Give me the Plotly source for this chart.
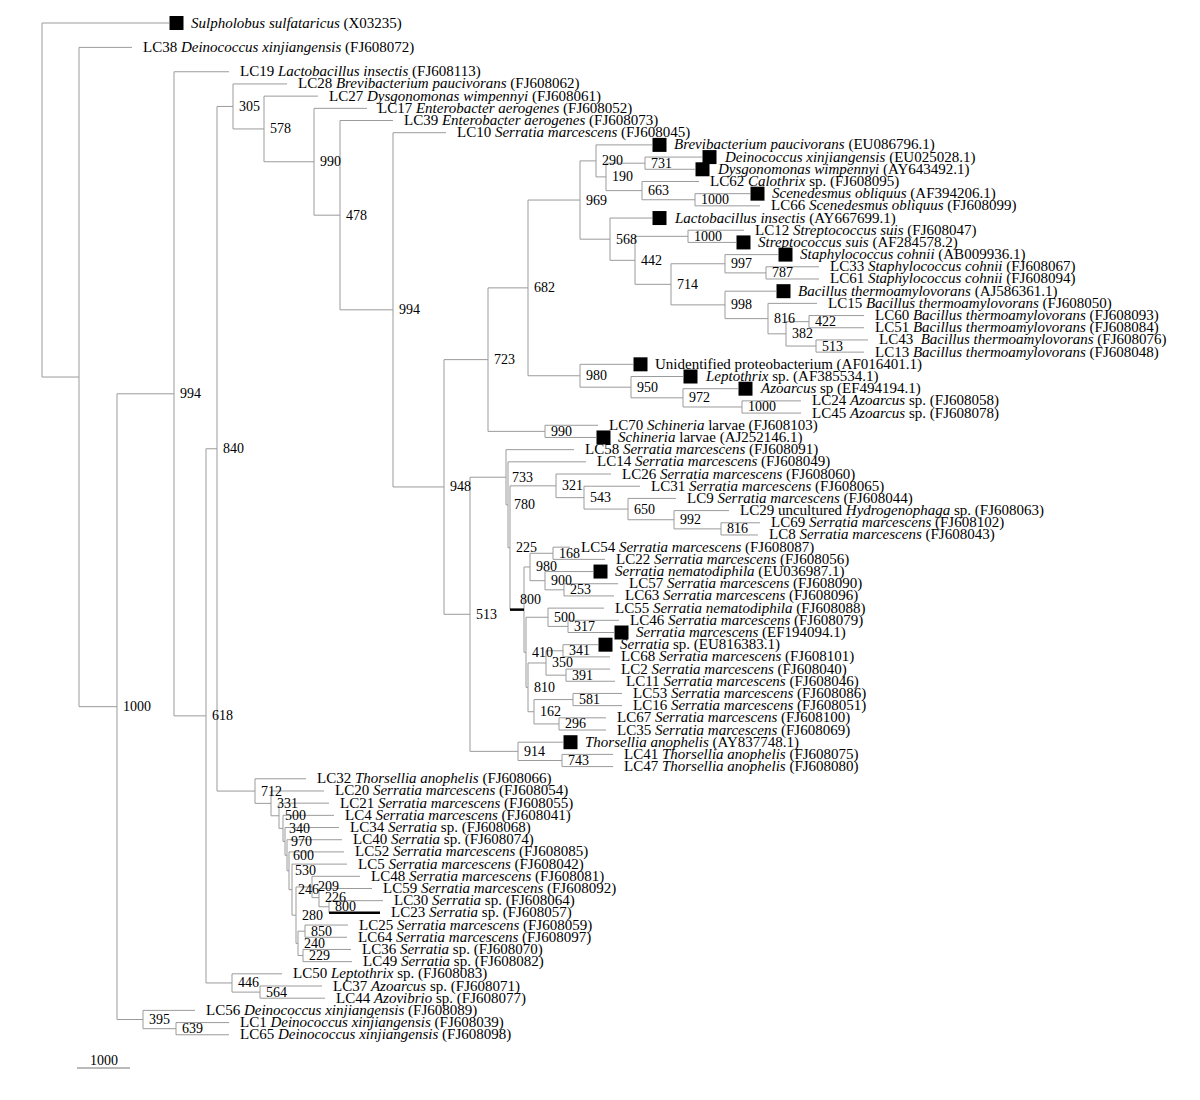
import plotly.graph_objects as go

# leaves, top to bottom
LEAF_LABELS = [
    "<i>Sulpholobus sulfataricus</i> (X03235)",
    "LC38 <i>Deinococcus xinjiangensis</i> (FJ608072)",
    "LC19 <i>Lactobacillus insectis</i> (FJ608113)",
    "LC28 <i>Brevibacterium paucivorans</i> (FJ608062)",
    "LC27 <i>Dysgonomonas wimpennyi</i> (FJ608061)",
    "LC17 <i>Enterobacter aerogenes</i> (FJ608052)",
    "LC39 <i>Enterobacter aerogenes</i> (FJ608073)",
    "LC10 <i>Serratia marcescens</i> (FJ608045)",
    "<i>Brevibacterium paucivorans</i> (EU086796.1)",
    "<i>Deinococcus xinjiangensis</i> (EU025028.1)",
    "<i>Dysgonomonas wimpennyi</i> (AY643492.1)",
    "LC62 <i>Calothrix</i> sp. (FJ608095)",
    "<i>Scenedesmus obliquus</i> (AF394206.1)",
    "LC66 <i>Scenedesmus obliquus</i> (FJ608099)",
    "<i>Lactobacillus insectis</i> (AY667699.1)",
    "LC12 <i>Streptococcus suis</i> (FJ608047)",
    "<i>Streptococcus suis</i> (AF284578.2)",
    "<i>Staphylococcus cohnii</i> (AB009936.1)",
    "LC33 <i>Staphylococcus cohnii</i> (FJ608067)",
    "LC61 <i>Staphylococcus cohnii</i> (FJ608094)",
    "<i>Bacillus thermoamylovorans</i> (AJ586361.1)",
    "LC15 <i>Bacillus thermoamylovorans</i> (FJ608050)",
    "LC60 <i>Bacillus thermoamylovorans</i> (FJ608093)",
    "LC51 <i>Bacillus thermoamylovorans</i> (FJ608084)",
    "LC43\u00a0 <i>Bacillus thermoamylovorans</i> (FJ608076)",
    "LC13 <i>Bacillus thermoamylovorans</i> (FJ608048)",
    "Unidentified proteobacterium (AF016401.1)",
    "<i>Leptothrix</i> sp. (AF385534.1)",
    "<i>Azoarcus</i> sp (EF494194.1)",
    "LC24 <i>Azoarcus</i> sp. (FJ608058)",
    "LC45 <i>Azoarcus</i> sp. (FJ608078)",
    "LC70 <i>Schineria</i> larvae (FJ608103)",
    "<i>Schineria</i> larvae (AJ252146.1)",
    "LC58 <i>Serratia marcescens</i> (FJ608091)",
    "LC14 <i>Serratia marcescens</i> (FJ608049)",
    "LC26 <i>Serratia marcescens</i> (FJ608060)",
    "LC31 <i>Serratia marcescens</i> (FJ608065)",
    "LC9 <i>Serratia marcescens</i> (FJ608044)",
    "LC29 uncultured <i>Hydrogenophaga</i> sp. (FJ608063)",
    "LC69 <i>Serratia marcescens</i> (FJ608102)",
    "LC8 <i>Serratia marcescens</i> (FJ608043)",
    "LC54 <i>Serratia marcescens</i> (FJ608087)",
    "LC22 <i>Serratia marcescens</i> (FJ608056)",
    "<i>Serratia nematodiphila</i> (EU036987.1)",
    "LC57 <i>Serratia marcescens</i> (FJ608090)",
    "LC63 <i>Serratia marcescens</i> (FJ608096)",
    "LC55 <i>Serratia nematodiphila</i> (FJ608088)",
    "LC46 <i>Serratia marcescens</i> (FJ608079)",
    "<i>Serratia marcescens</i> (EF194094.1)",
    "<i>Serratia</i> sp. (EU816383.1)",
    "LC68 <i>Serratia marcescens</i> (FJ608101)",
    "LC2 <i>Serratia marcescens</i> (FJ608040)",
    "LC11 <i>Serratia marcescens</i> (FJ608046)",
    "LC53 <i>Serratia marcescens</i> (FJ608086)",
    "LC16 <i>Serratia marcescens</i> (FJ608051)",
    "LC67 <i>Serratia marcescens</i> (FJ608100)",
    "LC35 <i>Serratia marcescens</i> (FJ608069)",
    "<i>Thorsellia anophelis</i> (AY837748.1)",
    "LC41 <i>Thorsellia anophelis</i> (FJ608075)",
    "LC47 <i>Thorsellia anophelis</i> (FJ608080)",
    "LC32 <i>Thorsellia anophelis</i> (FJ608066)",
    "LC20 <i>Serratia marcescens</i> (FJ608054)",
    "LC21 <i>Serratia marcescens</i> (FJ608055)",
    "LC4 <i>Serratia marcescens</i> (FJ608041)",
    "LC34 <i>Serratia</i> sp. (FJ608068)",
    "LC40 <i>Serratia</i> sp. (FJ608074)",
    "LC52 <i>Serratia marcescens</i> (FJ608085)",
    "LC5 <i>Serratia marcescens</i> (FJ608042)",
    "LC48 <i>Serratia marcescens</i> (FJ608081)",
    "LC59 <i>Serratia marcescens</i> (FJ608092)",
    "LC30 <i>Serratia</i> sp. (FJ608064)",
    "LC23 <i>Serratia</i> sp. (FJ608057)",
    "LC25 <i>Serratia marcescens</i> (FJ608059)",
    "LC64 <i>Serratia marcescens</i> (FJ608097)",
    "LC36 <i>Serratia</i> sp. (FJ608070)",
    "LC49 <i>Serratia</i> sp. (FJ608082)",
    "LC50 <i>Leptothrix</i> sp. (FJ608083)",
    "LC37 <i>Azoarcus</i> sp. (FJ608071)",
    "LC44 <i>Azovibrio</i> sp. (FJ608077)",
    "LC56 <i>Deinococcus xinjiangensis</i> (FJ608089)",
    "LC1 <i>Deinococcus xinjiangensis</i> (FJ608039)",
    "LC65 <i>Deinococcus xinjiangensis</i> (FJ608098)",
]

# cumulative branch length at each tip (same units as NODE_DEPTH)
LEAF_DEPTH = [
    169, 132, 229, 287, 318, 367, 393, 446,
    652, 702, 695, 699, 750, 760, 652, 744, 736,
    778, 819, 819, 776, 817, 864, 864, 868, 864,
    633, 683, 738, 801, 801, 598, 596,
    574, 586, 611, 640, 676, 729, 760, 758,
    570, 605, 593, 618, 614, 604, 619, 614, 598,
    610, 610, 615, 622, 622, 606, 606, 563, 613, 613,
    306, 324, 329, 334, 339, 342, 344, 347, 360, 372,
    383, 380, 348, 347, 351, 352, 282, 322, 325,
    195, 229, 229,
]

# reference sequences from GenBank (black squares)
REFERENCE_LEAVES = [0, 8, 9, 10, 12, 14, 16, 17, 20, 26, 27, 28, 32, 43, 48, 49, 57]

NODE_NAMES = [
    "nRoot", "n78", "nA", "nB", "n618", "n840", "n305", "n578", "n990", "n478",
    "n994b", "n948", "n723", "n682", "n969", "n290", "n190", "n731", "n663", "n1000s",
    "n568", "n442", "n1000st", "n714", "n997", "n787", "n998", "n816b", "n382", "n422",
    "n513b", "n980u", "n950", "n972", "n1000a", "n990s", "n513", "n733", "n780", "n225",
    "n321", "n543", "n650", "n992", "n816s", "n810", "n410", "n800s", "n980s", "n168",
    "n900", "n253", "n500s", "n317", "n350", "n341", "n391", "n162", "n581", "n296",
    "n914", "n743", "n712", "n331", "n500l", "n340", "n970", "n600", "n530", "n246",
    "n280", "n209", "n226", "n800l", "n240", "n850", "n229", "n446", "n564", "n395",
    "n639",
]
NODE_DEPTH = [
    42, 79, 117, 174, 206, 217, 233, 264, 314, 340,
    393, 444, 488, 528, 580, 596, 606, 645, 642, 695,
    610, 635, 688, 671, 725, 766, 725, 768, 786, 809,
    816, 580, 631, 683, 742, 545, 470, 506, 508, 510,
    556, 584, 628, 674, 721, 528, 526, 524, 530, 553,
    545, 564, 548, 568, 546, 563, 566, 534, 573, 559,
    518, 562, 255, 271, 279, 283, 285, 287, 289, 292,
    296, 312, 319, 329, 298, 305, 303, 232, 260, 143,
    176,
]
NODE_SUPPORT = [
    "", "", "1000", "994", "618", "840", "305", "578", "990", "478",
    "994", "948", "723", "682", "969", "290", "190", "731", "663", "1000",
    "568", "442", "1000", "714", "997", "787", "998", "816", "382", "422",
    "513", "980", "950", "972", "1000", "990", "513", "733", "780", "225",
    "321", "543", "650", "992", "816", "810", "410", "800", "980", "168",
    "900", "253", "500", "317", "350", "341", "391", "162", "581", "296",
    "914", "743", "712", "331", "500", "340", "970", "600", "530", "246",
    "280", "209", "226", "800", "240", "850", "229", "446", "564", "395",
    "639",
]
NODE_CHILDREN = [
    ["L0", "n78"], ["L1", "nA"], ["nB", "n395"], ["L2", "n618"], ["n840", "n446"],
    ["n305", "n712"], ["L3", "n578"], ["L4", "n990"], ["L5", "n478"], ["L6", "n994b"],
    ["L7", "n948"], ["n723", "n513"], ["n682", "n990s"], ["n969", "n980u"], ["n290", "n568"],
    ["L8", "n190"], ["n731", "n663"], ["L9", "L10"], ["L11", "n1000s"], ["L12", "L13"],
    ["L14", "n442"], ["n1000st", "n714"], ["L15", "L16"], ["n997", "n998"], ["L17", "n787"],
    ["L18", "L19"], ["L20", "n816b"], ["L21", "n382"], ["n422", "n513b"], ["L22", "L23"],
    ["L24", "L25"], ["L26", "n950"], ["L27", "n972"], ["L28", "n1000a"], ["L29", "L30"],
    ["L31", "L32"], ["n733", "n914"], ["L33", "n780"], ["L34", "n225"], ["n321", "n800s"],
    ["L35", "n543"], ["L36", "n650"], ["L37", "n992"], ["L38", "n816s"], ["L39", "L40"],
    ["n350", "n162"], ["n500s", "n810"], ["n980s", "n410"], ["n168", "n900"], ["L41", "L42"],
    ["L43", "n253"], ["L44", "L45"], ["L46", "n317"], ["L47", "L48"], ["n341", "n391"],
    ["L49", "L50"], ["L51", "L52"], ["n581", "n296"], ["L53", "L54"], ["L55", "L56"],
    ["L57", "n743"], ["L58", "L59"], ["L60", "n331"], ["L61", "n500l"], ["L62", "n340"],
    ["L63", "n970"], ["L64", "n600"], ["L65", "n530"], ["L66", "n246"], ["L67", "n280"],
    ["n209", "n240"], ["L68", "n226"], ["L69", "n800l"], ["L70", "L71"], ["n850", "n229"],
    ["L72", "L73"], ["L74", "L75"], ["L76", "n564"], ["L77", "L78"], ["L79", "n639"],
    ["L80", "L81"],
]
THICK_BRANCHES = ["n800s", "L71"]

SCALE_BAR = 53
SCALE_TEXT = "1000"

# ---- layout of the tree (page pixels) ----
Y0, ROW = 23, 12.19
FONT = "Liberation Serif, Times New Roman, serif"
LINE_COL = "#9b9b9b"

rows, r = [], 0
for i in range(len(LEAF_LABELS)):
    if i in (1, 2):
        r += 2          # outgroups are spaced wider
    elif i > 0:
        r += 1
    rows.append(r)

node = {n: i for i, n in enumerate(NODE_NAMES)}
parent = {c: n for n, ch in zip(NODE_NAMES, NODE_CHILDREN) for c in ch}


def xof(ref):
    if ref.startswith("L"):
        return LEAF_DEPTH[int(ref[1:])]
    return NODE_DEPTH[node[ref]]


ycache = {}


def yof(ref):
    if ref in ycache:
        return ycache[ref]
    if ref.startswith("L"):
        y = Y0 + rows[int(ref[1:])] * ROW
    else:
        ch = NODE_CHILDREN[node[ref]]
        y = (yof(ch[0]) + yof(ch[-1])) / 2
    ycache[ref] = y
    return y


lx, ly, tx, ty = [], [], [], []
for name, ch in zip(NODE_NAMES, NODE_CHILDREN):
    x = xof(name)
    lx += [x, x, None]
    ly += [yof(ch[0]), yof(ch[-1]), None]
    for c in ch:
        if c in THICK_BRANCHES:
            tx += [x, xof(c), None]
            ty += [yof(c), yof(c), None]
        else:
            lx += [x, xof(c), None]
            ly += [yof(c), yof(c), None]

fig = go.Figure()
fig.add_trace(go.Scatter(x=lx, y=ly, mode="lines",
                         line=dict(color=LINE_COL, width=1), hoverinfo="skip"))
fig.add_trace(go.Scatter(x=tx, y=ty, mode="lines",
                         line=dict(color="black", width=2.5), hoverinfo="skip"))

# reference sequence squares
fig.add_trace(go.Scatter(
    x=[LEAF_DEPTH[i] + 7.5 for i in REFERENCE_LEAVES],
    y=[yof("L%d" % i) for i in REFERENCE_LEAVES],
    mode="markers",
    marker=dict(symbol="square", size=14, color="black", line=dict(width=0)),
    hoverinfo="skip"))

# scale bar
fig.add_trace(go.Scatter(x=[77, 77 + SCALE_BAR], y=[1068, 1068], mode="lines",
                         line=dict(color="#777777", width=1), hoverinfo="skip"))

ann = []
for i, lab in enumerate(LEAF_LABELS):
    off = 20 if i in REFERENCE_LEAVES else 9
    ann.append(dict(x=LEAF_DEPTH[i] + off, y=yof("L%d" % i), text=lab,
                    xanchor="left", yanchor="middle", showarrow=False,
                    font=dict(family=FONT, size=15, color="black")))

for name, sup in zip(NODE_NAMES, NODE_SUPPORT):
    if not sup:
        continue
    x, y = xof(name), yof(name)
    if name in THICK_BRANCHES:
        ann.append(dict(x=x - 6, y=y - 1, text=sup, xanchor="left",
                        yanchor="bottom", showarrow=False,
                        font=dict(family=FONT, size=14, color="black")))
    else:
        ann.append(dict(x=x + 4, y=y, text=sup, xanchor="left", yanchor="middle",
                        showarrow=False, font=dict(family=FONT, size=14, color="black")))

ann.append(dict(x=77 + SCALE_BAR / 2, y=1060, text=SCALE_TEXT, xanchor="center",
                yanchor="middle", showarrow=False,
                font=dict(family=FONT, size=14, color="black")))

fig.update_layout(
    width=1184, height=1084,
    margin=dict(l=0, r=0, t=0, b=0),
    paper_bgcolor="white", plot_bgcolor="white",
    showlegend=False,
    xaxis=dict(range=[8, 1192], visible=False),
    yaxis=dict(range=[1092, 8], visible=False),
    annotations=ann,
)

fig.write_html("out.html")
